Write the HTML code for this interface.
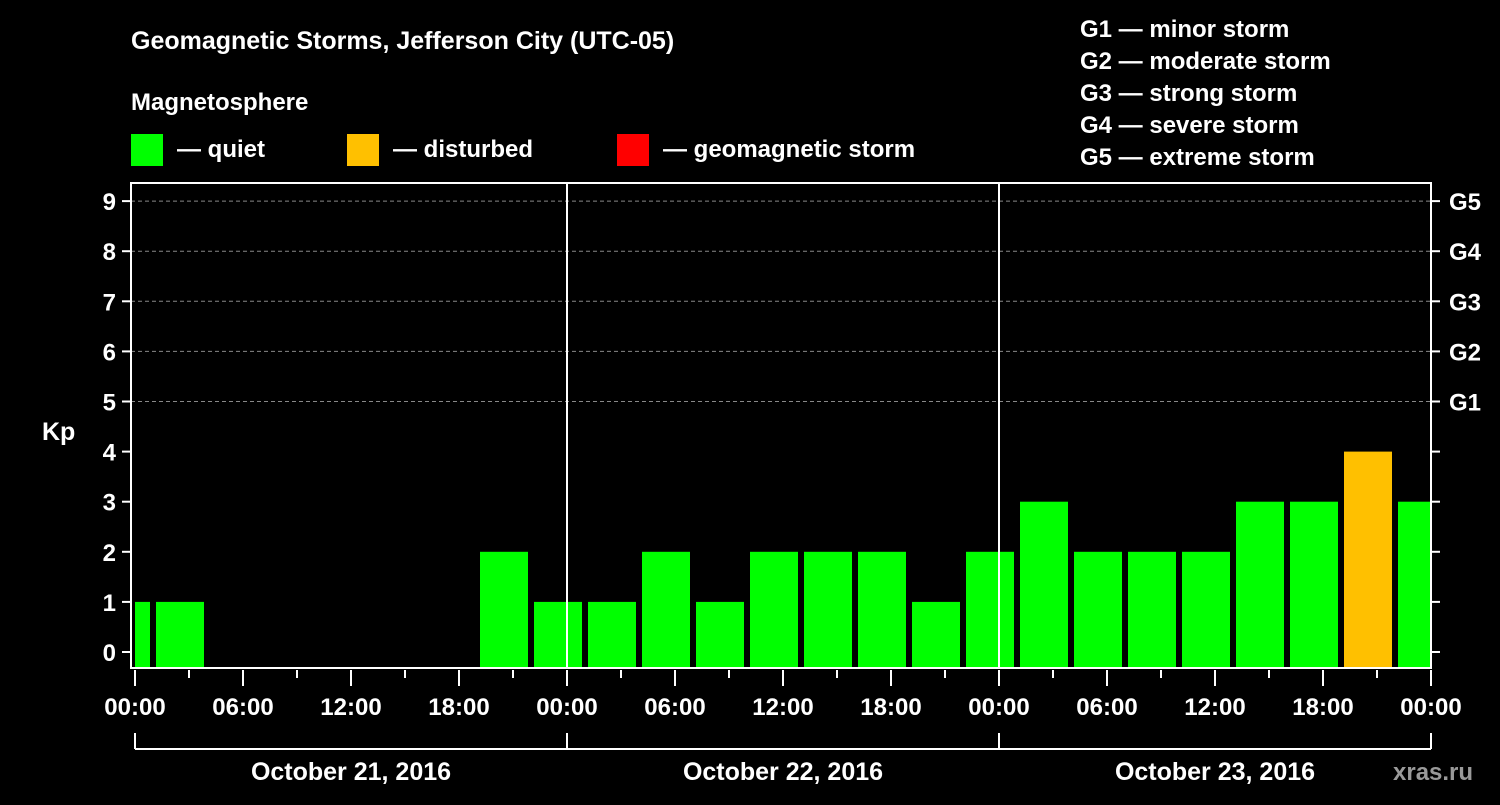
<!DOCTYPE html>
<html><head><meta charset="utf-8"><style>
html,body{margin:0;padding:0;background:#000;}
svg text{font-family:"Liberation Sans",sans-serif;font-weight:bold;fill:#fff;}
</style></head><body>
<svg width="1500" height="800" viewBox="0 0 1500 800">
<g id="hdr">
<text x="131" y="49" font-size="25">Geomagnetic Storms, Jefferson City (UTC-05)</text>
<text x="131" y="110" font-size="24">Magnetosphere</text>
<rect x="131" y="134" width="32" height="32" fill="#00ff00"/>
<text x="177" y="157" font-size="24">— quiet</text>
<rect x="347" y="134" width="32" height="32" fill="#ffc000"/>
<text x="393" y="157" font-size="24">— disturbed</text>
<rect x="617" y="134" width="32" height="32" fill="#ff0000"/>
<text x="663" y="157" font-size="24">— geomagnetic storm</text>
<text x="1080" y="37" font-size="24">G1 — minor storm</text>
<text x="1080" y="69" font-size="24">G2 — moderate storm</text>
<text x="1080" y="101" font-size="24">G3 — strong storm</text>
<text x="1080" y="133" font-size="24">G4 — severe storm</text>
<text x="1080" y="165" font-size="24">G5 — extreme storm</text>
<text x="42" y="440" font-size="25">Kp</text>
<text x="1393" y="780" font-size="24" fill="#aaa" style="fill:#9a9a9a">xras.ru</text>
</g>
<g id="plot"></g>
</svg>
<script>
const kpValues = [1,1,0,0,0,0,0,2,1, 1,2,1,2,2,2,1,2, 3,2,2,2,3,3,4,3];
const binStartHours = [-2,1,4,7,10,13,16,19,22, 25,28,31,34,37,40,43,46, 49,52,55,58,61,64,67,70];
const yTicks = [0,1,2,3,4,5,6,7,8,9];
const gLabels = ['G1','G2','G3','G4','G5'];
const xTickLabels = ['00:00','06:00','12:00','18:00'];
const dayLabels = ['October 21, 2016','October 22, 2016','October 23, 2016'];

const NS='http://www.w3.org/2000/svg';
const g=document.getElementById('plot');
const X0=135, PX_H=18, L=131, R=1431, T=183, B=668;
const xs=h=>X0+h*PX_H;
const ys=v=>652-v*50.1;
function mk(tag,attrs){const e=document.createElementNS(NS,tag);for(const k in attrs)e.setAttribute(k,attrs[k]);g.appendChild(e);return e;}

// grid
yTicks.forEach(v=>{
  if(v>=5){const l=mk('line',{x1:L,x2:R,y1:ys(v),y2:ys(v),stroke:'#888','stroke-dasharray':'4,3','stroke-width':1});
  
  }
  const t=mk('line',{x1:122,x2:L,y1:ys(v),y2:ys(v),stroke:'#fff','stroke-width':2});
  
  
  const t2=mk('line',{x1:R,x2:R+9,y1:ys(v),y2:ys(v),stroke:'#fff','stroke-width':2});
  
  
  const tx=mk('text',{x:116,y:ys(v)+9,'font-size':24,'text-anchor':'end'});tx.textContent=v;
  
  
});
gLabels.forEach((s,i)=>{
  const tx=mk('text',{x:1449,y:ys(5+i)+9,'font-size':24});tx.textContent=s;
  
  
});
// bars
kpValues.forEach((v,i)=>{
  if(v<=0)return;
  let x1=xs(binStartHours[i])+3, x2=xs(binStartHours[i]+3)-3;
  x1=Math.max(x1,X0); x2=Math.min(x2,R-1);
  const col=v>=5?'#ff0000':(v>=4?'#ffc000':'#00ff00');
  const r=mk('rect',{x:x1,y:ys(v),width:x2-x1,height:B-ys(v),fill:col});
  
  
});
// day separators
[1,2].forEach(d=>{const l=mk('line',{x1:xs(24*d),x2:xs(24*d),y1:T,y2:B,stroke:'#fff','stroke-width':2});
  
  });
// frame
const fr=mk('rect',{x:L,y:T,width:R-L,height:B-T,fill:'none',stroke:'#fff','stroke-width':2});


// x ticks
for(let h=0;h<=72;h+=3){
  const major=h%6===0;
  const l=mk('line',{x1:xs(h),x2:xs(h),y1:B+2,y2:B+(major?18:10),stroke:'#fff','stroke-width':2});
  
  
  if(major){const tx=mk('text',{x:xs(h),y:715,'font-size':24,'text-anchor':'middle'});
    tx.textContent=xTickLabels[(h/6)%4];
    
    }
}
// date bracket
const br=mk('line',{x1:xs(0),x2:xs(72),y1:749,y2:749,stroke:'#fff','stroke-width':2});


for(let d=0;d<=3;d++){const l=mk('line',{x1:xs(24*d),x2:xs(24*d),y1:733,y2:749,stroke:'#fff','stroke-width':2});
  
  }
dayLabels.forEach((s,d)=>{const tx=mk('text',{x:xs(24*d+12),y:780,'font-size':25,'text-anchor':'middle'});tx.textContent=s;
  
  });
</script>
</body></html>
